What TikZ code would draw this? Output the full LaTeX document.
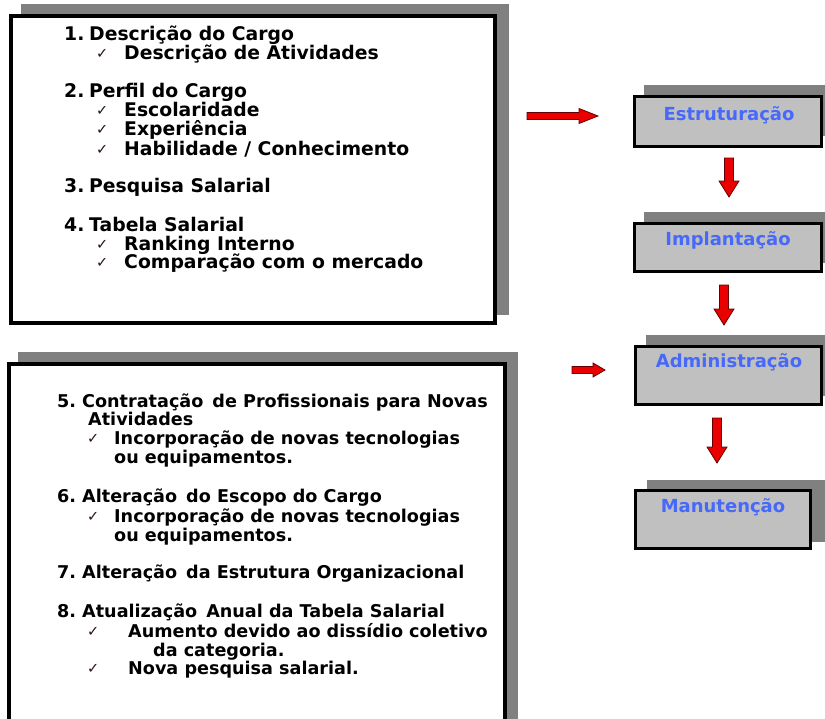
\documentclass[tikz,border=0pt]{standalone}
\usepackage{fontspec}
\setmainfont{DejaVu Sans}
\newfontfamily\checkfont{DejaVu Sans}
\definecolor{shadowgray}{RGB}{128,128,128}
\definecolor{boxgray}{RGB}{192,192,192}
\definecolor{titleblue}{RGB}{70,105,250}
\definecolor{arrowred}{RGB}{235,0,0}
\definecolor{tickcol}{RGB}{40,20,20}
\tikzset{
  itemA/.style={font=\bfseries\fontsize{18.8}{20}\selectfont, anchor=base west, inner sep=0pt},
  itemB/.style={font=\bfseries\fontsize{17.6}{19}\selectfont, anchor=base west, inner sep=0pt},
  tick/.style={font=\checkfont\fontsize{14.5}{15}\selectfont, text=tickcol, anchor=base west, inner sep=0pt},
  stagebox/.style={draw=black, line width=3pt, fill=boxgray, inner sep=0pt},
  stagelabel/.style={font=\bfseries\fontsize{18}{19}\selectfont, text=titleblue, anchor=base, inner sep=0pt},
  blockarrow/.style={fill=arrowred, draw=black!60!red, line width=0.8pt, line join=miter},
}
\newcommand{\harrow}[6]{% x1 x2 y shafthalf headhalf headlen
  \draw[blockarrow] (#1,#3-#4) -- (#2-#6,#3-#4) -- (#2-#6,#3-#5) -- (#2,#3) -- (#2-#6,#3+#5) -- (#2-#6,#3+#4) -- (#1,#3+#4) -- cycle;}
\newcommand{\varrow}[6]{% x y1 y2 shafthalf headhalf headlen
  \draw[blockarrow] (#1-#4,#2) -- (#1-#4,#3-#6) -- (#1-#5,#3-#6) -- (#1,#3) -- (#1+#5,#3-#6) -- (#1+#4,#3-#6) -- (#1+#4,#2) -- cycle;}
\begin{document}
\begin{tikzpicture}[x=1pt,y=-1pt]
\useasboundingbox (0,0) rectangle (825,718);
\clip (0,0) rectangle (825,718);
\fill[white] (0,0) rectangle (825,718);

% ---- box 1
\fill[shadowgray] (21,4) rectangle (509,315);
\draw[line width=3.5pt, fill=white] (11,16) rectangle (495,323);
\node[itemA] (n1) at (64,40) {1.};
\node[itemA] (t1) at (89,40) {Descrição do Cargo};
\node[tick] (c11) at (96,58) {✓};
\node[itemA] (t11) at (124,59) {Descrição de Atividades};
\node[itemA] (n2) at (64,97) {2.};
\node[itemA] (t2) at (89,97) {Perfil do Cargo};
\node[tick] (c21) at (96,115) {✓};
\node[itemA] (t21) at (124,116) {Escolaridade};
\node[tick] (c22) at (96,134) {✓};
\node[itemA] (t22) at (124,135) {Experiência};
\node[tick] (c23) at (96,154) {✓};
\node[itemA] (t23) at (124,155) {Habilidade / Conhecimento};
\node[itemA] (n3) at (64,192) {3.};
\node[itemA] (t3) at (89,192) {Pesquisa Salarial};
\node[itemA] (n4) at (64,231) {4.};
\node[itemA] (t4) at (89,231) {Tabela Salarial};
\node[tick] (c41) at (96,249) {✓};
\node[itemA] (t41) at (124,250) {Ranking Interno};
\node[tick] (c42) at (96,267) {✓};
\node[itemA] (t42) at (124,268) {Comparação com o mercado};

% ---- box 2
\fill[shadowgray] (18,352) rectangle (518,760);
\draw[line width=3.5pt, fill=white] (9,364) rectangle (505,760);
\node[itemB] (n5) at (57,407) {5.};
\node[itemB] (t5) at (82,407) {Contratação\, de Profissionais para Novas};
\node[itemB] (t5b) at (88,425) {Atividades};
\node[tick] (c51) at (87,443) {✓};
\node[itemB] (t51) at (114,444) {Incorporação de novas tecnologias};
\node[itemB] (t51b) at (114,463) {ou equipamentos.};
\node[itemB] (n6) at (57,502) {6.};
\node[itemB] (t6) at (82,502) {Alteração\, do Escopo do Cargo};
\node[tick] (c61) at (87,521) {✓};
\node[itemB] (t61) at (114,522) {Incorporação de novas tecnologias};
\node[itemB] (t61b) at (114,541) {ou equipamentos.};
\node[itemB] (n7) at (57,578) {7.};
\node[itemB] (t7) at (82,578) {Alteração\, da Estrutura Organizacional};
\node[itemB] (n8) at (57,617) {8.};
\node[itemB] (t8) at (82,617) {Atualização\, Anual da Tabela Salarial};
\node[tick] (c81) at (87,636) {✓};
\node[itemB] (t81) at (128,637) {Aumento devido ao dissídio coletivo};
\node[itemB] (t81b) at (153,656) {da categoria.};
\node[tick] (c82) at (87,673) {✓};
\node[itemB] (t82) at (128,674) {Nova pesquisa salarial.};

% ---- stage boxes
\fill[shadowgray] (644,85) rectangle (840,136);
\node[stagebox, minimum width=187pt, minimum height=50pt] (estr) at (728,121.5) {};
\node[stagelabel] (estrT) at (729,120) {Estruturação};

\fill[shadowgray] (644,212) rectangle (840,263);
\node[stagebox, minimum width=187pt, minimum height=48pt] (impl) at (728,247.5) {};
\node[stagelabel] (implT) at (728,245) {Implantação};

\fill[shadowgray] (646,335) rectangle (840,396);
\node[stagebox, minimum width=186pt, minimum height=58pt] (adm) at (728.5,375.5) {};
\node[stagelabel] (admT) at (729,367) {Administração};

\fill[shadowgray] (647,480) rectangle (825,542);
\node[stagebox, minimum width=175pt, minimum height=58pt] (man) at (723,519.5) {};
\node[stagelabel] (manT) at (723,512) {Manutenção};

% ---- arrows
\harrow{527}{598}{116}{3.5}{7.5}{19}
\harrow{572}{605}{370}{3.5}{7}{12}
\varrow{729}{158}{197}{4.5}{10}{16}
\varrow{724}{285}{325}{4.5}{10}{16}
\varrow{717}{418}{463}{4.5}{10}{16}
\end{tikzpicture}
\end{document}
